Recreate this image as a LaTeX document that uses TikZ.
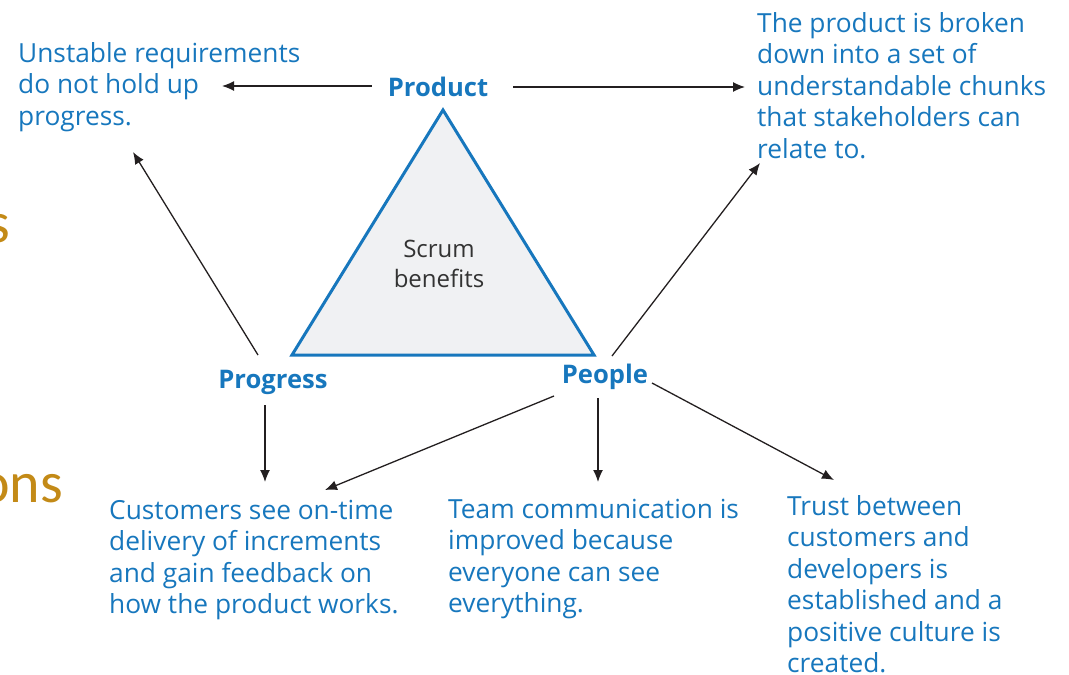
\documentclass[tikz,border=0pt]{standalone}
\usepackage{fontspec}
\setmainfont{Open Sans}
\newfontfamily\calfont{Carlito}
\usetikzlibrary{arrows.meta}
\definecolor{sblue}{HTML}{1777BD}
\definecolor{sgold}{HTML}{C38A17}
\definecolor{sdark}{HTML}{231F20}
\definecolor{sfill}{HTML}{F0F1F3}
\definecolor{sgray}{HTML}{333333}
\tikzset{
  bluetxt/.style={text=sblue, align=left, inner sep=0pt, anchor=base west,
    font=\fontsize{26.3}{31.5}\selectfont},
  corner/.style={text=sblue, inner sep=0pt, anchor=base,
    font=\fontsize{25.6}{28}\selectfont\bfseries},
  arr/.style={draw=sdark, line width=1.3pt, -{Latex[length=12pt,width=10pt]}},
  tri/.style={draw=sblue, line width=3pt, fill=sfill, line join=miter},
  goldtxt/.style={text=sgold, inner sep=0pt, anchor=base east,
    font=\calfont\fontsize{58}{60}\selectfont},
}
\begin{document}
\begin{tikzpicture}[x=1pt,y=-1pt]
\path[use as bounding box] (0,0) rectangle (1069,675);
% cropped slide text at the left edge
\node[goldtxt] (gs) at (10,242) {s};
\node[goldtxt] (gons) at (63,502) {ons};
% triangle
\coordinate (tA) at (443,110);
\coordinate (tB) at (292,355);
\coordinate (tC) at (594,355);
\draw[tri] (tA) -- (tB) -- (tC) -- cycle;
\node[text=sgray, align=center, inner sep=0pt, anchor=base,
  font=\fontsize{24}{30}\selectfont] (scrum) at (439,287) {Scrum\\benefits};
% corner labels
\node[corner] (prod) at (438,96) {Product};
\node[corner] (prog) at (273,388) {Progress};
\node[corner] (peop) at (605,383) {People};
% texts (base anchor = baseline of the last line)
\node[bluetxt] (unst) at (18,125) {Unstable requirements\\do not hold up\\progress.};
\node[bluetxt] (chunk) at (757,158) {The product is broken\\down into a set of\\understandable chunks\\that stakeholders can\\relate to.};
\node[bluetxt] (cust) at (109,613.5) {Customers see on-time\\delivery of increments\\and gain feedback on\\how the product works.};
\node[bluetxt] (team) at (448,612.5) {Team communication is\\improved because\\everyone can see\\everything.};
\node[bluetxt] (trust) at (787,672.5) {Trust between\\customers and\\developers is\\established and a\\positive culture is\\created.};
% connector ends
\coordinate (e1) at (222,86);
\coordinate (e2) at (745,87);
\coordinate (s3) at (258,355);
\coordinate (e3) at (133,152);
\coordinate (s4) at (612,356);
\coordinate (e4) at (760,163);
\coordinate (s5) at (265,405);
\coordinate (e5) at (265,482);
\coordinate (s6) at (554,396);
\coordinate (e6) at (325,490);
\coordinate (s7) at (598,398);
\coordinate (e7) at (598,482);
\coordinate (s8) at (652,383);
\coordinate (e8) at (834,480);
\draw[arr] ([xshift=-16pt]prod.west |- e1) -- (e1);
\draw[arr] ([xshift=25pt]prod.east |- e2) -- (e2);
\draw[arr] (s3) -- (e3);
\draw[arr] (s4) -- (e4);
\draw[arr] (s5) -- (e5);
\draw[arr] (s6) -- (e6);
\draw[arr] (s7) -- (e7);
\draw[arr] (s8) -- (e8);
\end{tikzpicture}
\end{document}
